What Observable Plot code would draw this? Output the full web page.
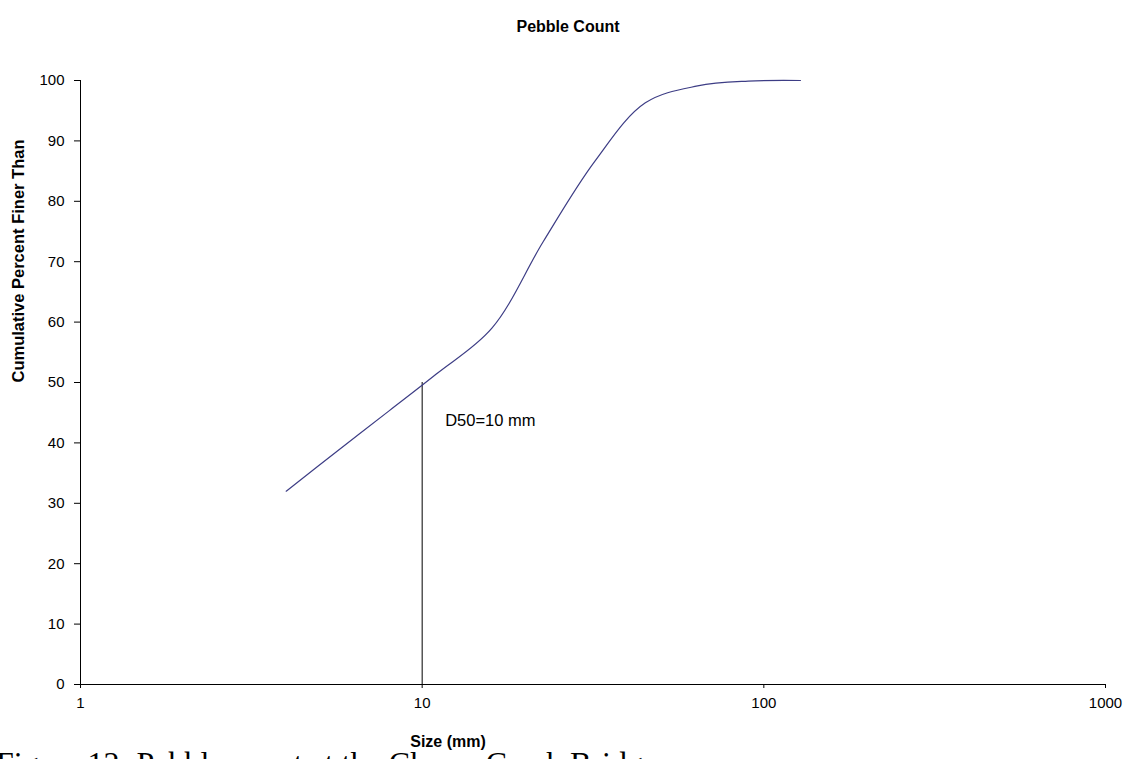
<!DOCTYPE html>
<html>
<head>
<meta charset="utf-8">
<script src="https://cdn.jsdelivr.net/npm/d3@7"></script>
<script src="https://cdn.jsdelivr.net/npm/@observablehq/plot@0.6"></script>
<style>
  html, body { margin: 0; padding: 0; background: #fff; overflow: hidden; }
  #wrap { position: relative; width: 1132px; height: 759px; }
  #caption {
    position: absolute; left: -4px; top: 747px;
    font-family: "Liberation Serif", "Times New Roman", serif;
    font-size: 32px; line-height: 1; white-space: nowrap; color: #000;
  }
</style>
</head>
<body>
<div id="wrap">
  <div id="chart"></div>
  <div id="caption">Figure 12: Pebble count at the Cherry Creek Bridge</div>
</div>
<script>
// Particle size (mm) against cumulative percent finer
const sizes = [4, 5.6, 8, 11, 16, 22.6, 32, 45, 64, 90, 128];
const percentFiner = [32, 38.5, 45.3, 51.4, 59, 73.3, 86.6, 96.3, 99.1, 99.9, 100];

// Median grain size
const d50Size = 10;
const d50Percent = 50;

const xTicks = [1, 10, 100, 1000];
const yTicks = [0, 10, 20, 30, 40, 50, 60, 70, 80, 90, 100];

const chartTitle = "Pebble Count";
const xLabel = "Size (mm)";
const yLabel = "Cumulative Percent Finer Than";
const d50Label = `D50=${d50Size} mm`;

const curve = sizes.map((s, i) => ({size: s, pct: percentFiner[i]}));
const d50 = [{size: d50Size, pct: d50Percent}];

const font = "'Liberation Sans', Arial, sans-serif";

const chart = Plot.plot({
  width: 1132,
  height: 759,
  marginLeft: 80,
  marginRight: 27,
  marginTop: 80,
  marginBottom: 75,
  style: {fontFamily: font, fontSize: "15px", color: "#000", background: "#fff", overflow: "visible"},
  x: {type: "log", domain: [1, 1000]},
  y: {domain: [0, 100]},
  marks: [
    Plot.axisY({ticks: yTicks, tickSize: 6, tickPadding: 10, label: null, fontSize: 15}),
    Plot.axisX({ticks: xTicks, tickFormat: d => String(d), tickSize: 4, tickPadding: 9, label: null, fontSize: 15}),
    Plot.ruleY([0], {stroke: "#000"}),
    Plot.ruleX([1], {stroke: "#000"}),
    // vertical marker at the median size
    Plot.ruleX(d50, {x: "size", y1: 0, y2: "pct", stroke: "#000", strokeWidth: 1}),
    Plot.line(curve, {x: "size", y: "pct", curve: "catmull-rom", stroke: "#3d3d85", strokeWidth: 1.2}),
    Plot.text(d50, {x: "size", y: "pct", text: () => d50Label, textAnchor: "start", dx: 23, dy: 38, fontSize: 16.5, fill: "#000"}),
    Plot.text([chartTitle], {frameAnchor: "top", dx: -25, dy: -60, fontSize: 16, fontWeight: "bold", fill: "#000"}),
    Plot.text([xLabel], {frameAnchor: "bottom", dx: -145, dy: 62, fontSize: 16, fontWeight: "bold", fill: "#000"}),
    Plot.text([yLabel], {frameAnchor: "left", dx: -62, rotate: -90, fontSize: 16.5, fontWeight: "bold", fill: "#000"})
  ]
});

document.getElementById("chart").appendChild(chart);
</script>
</body>
</html>
